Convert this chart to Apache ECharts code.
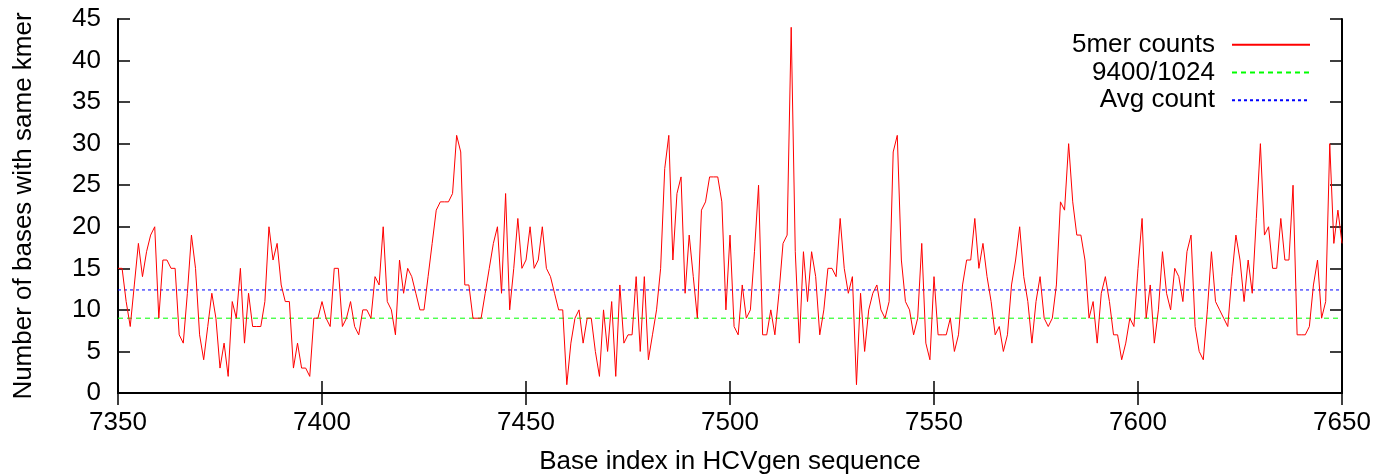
<!DOCTYPE html>
<html>
<head>
<meta charset="utf-8">
<script src="https://cdn.jsdelivr.net/npm/echarts@6/dist/echarts.min.js"></script>
<style>
  html, body { margin: 0; padding: 0; background: #fff; }
  #chart { width: 1379px; height: 475px; }
</style>
</head>
<body>
<div id="chart"></div>
<script>
// 5mer counts, one value per base, starting at base 7350
const startBase = 7350;
const kmerCounts = [
  15, 15, 11, 8, 13, 18, 14, 17, 19, 20,
  9, 16, 16, 15, 15, 7, 6, 12, 19, 15,
  7, 4, 8, 12, 9, 3, 6, 2, 11, 9,
  15, 6, 12, 8, 8, 8, 11, 20, 16, 18,
  13, 11, 11, 3, 6, 3, 3, 2, 9, 9,
  11, 9, 8, 15, 15, 8, 9, 11, 8, 7,
  10, 10, 9, 14, 13, 20, 11, 10, 7, 16,
  12, 15, 14, 12, 10, 10, 14, 18, 22, 23,
  23, 23, 24, 31, 29, 13, 13, 9, 9, 9,
  12, 15, 18, 20, 12, 24, 10, 15, 21, 15,
  16, 20, 15, 16, 20, 15, 14, 12, 10, 10,
  1, 6, 9, 10, 6, 9, 9, 5, 2, 10,
  5, 11, 2, 13, 6, 7, 7, 14, 5, 14,
  4, 7, 10, 15, 27, 31, 16, 24, 26, 12,
  19, 14, 9, 22, 23, 26, 26, 26, 23, 10,
  19, 8, 7, 13, 9, 10, 17, 25, 7, 7,
  10, 7, 12, 18, 19, 44, 17, 6, 17, 11,
  17, 14, 7, 10, 15, 15, 14, 21, 15, 12,
  14, 1, 12, 5, 10, 12, 13, 10, 9, 11,
  29, 31, 16, 11, 10, 7, 9, 18, 6, 4,
  14, 7, 7, 7, 9, 5, 7, 13, 16, 16,
  21, 15, 18, 14, 11, 7, 8, 5, 7, 13,
  16, 20, 14, 11, 6, 11, 14, 9, 8, 9,
  13, 23, 22, 30, 23, 19, 19, 16, 9, 11,
  6, 12, 14, 11, 7, 7, 4, 6, 9, 8,
  15, 21, 9, 13, 6, 10, 17, 12, 10, 15,
  14, 11, 17, 19, 8, 5, 4, 10, 17, 11,
  10, 9, 8, 14, 19, 16, 11, 16, 12, 21,
  30, 19, 20, 15, 15, 21, 16, 16, 25, 7,
  7, 7, 8, 13, 16, 9, 11, 30, 18, 22,
  18
];
const xRange = [7350, 7650];
const expectedCount = 9;     // 9400/1024 (integer division)
const avgCount = 12.4;
const seriesNames = ['5mer counts', '9400/1024', 'Avg count'];

const font = 'Liberation Sans, Arial, Helvetica, sans-serif';
const fontSize = 26;

const countPoints = kmerCounts.map((v, i) => [startBase + i, v]);

const chart = echarts.init(document.getElementById('chart'));

const frameAxis = {
  axisLine: { show: true, lineStyle: { color: '#000', width: 2 } },
  axisTick: { show: true, inside: true, length: 12, lineStyle: { color: '#000', width: 1.5 } },
  splitLine: { show: false },
  axisLabel: { show: false }
};

chart.setOption({
  animation: false,
  backgroundColor: '#fff',
  textStyle: { fontFamily: font },
  grid: {
    left: 118, right: 37, top: 19, bottom: 82,
    containLabel: false,
    outerBoundsMode: 'none'
  },
  legend: {
    orient: 'vertical',
    right: 68,
    top: 31,
    padding: 0,
    itemGap: 0,
    align: 'right',
    itemWidth: 78,
    itemHeight: 14,
    data: seriesNames,
    itemStyle: { opacity: 0 },
    textStyle: {
      fontFamily: font,
      fontSize: fontSize,
      color: '#000',
      lineHeight: 27.7,
      padding: [0, 12, 0, 0]
    }
  },
  xAxis: [
    Object.assign({}, frameAxis, {
      type: 'value',
      min: xRange[0],
      max: xRange[1],
      interval: 50,
      position: 'bottom',
      name: 'Base index in HCVgen sequence',
      nameLocation: 'middle',
      nameGap: 56,
      nameTextStyle: { fontFamily: font, fontSize: fontSize, color: '#000' },
      axisLabel: {
        show: true, margin: 17, fontFamily: font, fontSize: fontSize, color: '#000',
        formatter: (v) => String(v)
      }
    }),
    Object.assign({}, frameAxis, {
      type: 'value',
      min: xRange[0],
      max: xRange[1],
      interval: 50,
      position: 'top'
    })
  ],
  yAxis: [
    Object.assign({}, frameAxis, {
      type: 'value',
      min: 0,
      max: 45,
      interval: 5,
      position: 'left',
      name: 'Number of bases with same kmer',
      nameLocation: 'middle',
      nameGap: 81,
      nameTextStyle: { fontFamily: font, fontSize: fontSize, color: '#000' },
      axisLabel: { show: true, margin: 17, fontFamily: font, fontSize: fontSize, color: '#000' }
    }),
    Object.assign({}, frameAxis, {
      type: 'value',
      min: 0,
      max: 45,
      interval: 5,
      position: 'right'
    })
  ],
  series: [
    {
      name: seriesNames[0],
      type: 'line',
      data: countPoints,
      symbol: 'none',
      lineStyle: { color: '#ff0000', width: 1 },
      itemStyle: { color: '#ff0000' },
      z: 3
    },
    {
      name: seriesNames[1],
      type: 'line',
      data: [[xRange[0], expectedCount], [xRange[1], expectedCount]],
      symbol: 'none',
      lineStyle: { color: '#00ff00', width: 1, type: [5, 4] },
      itemStyle: { color: '#00ff00' },
      z: 2
    },
    {
      name: seriesNames[2],
      type: 'line',
      data: [[xRange[0], avgCount], [xRange[1], avgCount]],
      symbol: 'none',
      lineStyle: { color: '#0000ff', width: 1, type: [3, 3] },
      itemStyle: { color: '#0000ff' },
      z: 2
    }
  ]
});
</script>
</body>
</html>
